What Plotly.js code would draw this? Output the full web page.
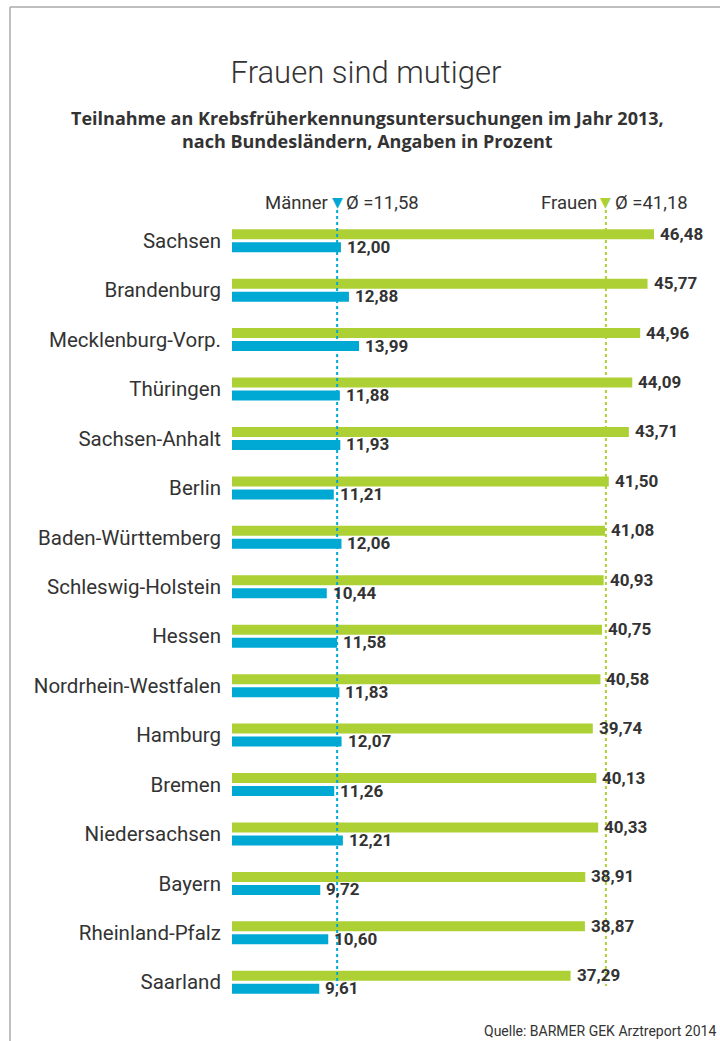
<!DOCTYPE html>
<html>
<head>
<meta charset="utf-8">
<script src="https://cdn.plot.ly/plotly-3.0.1.min.js"></script>
<style>
  html, body { margin: 0; padding: 0; background: #ffffff; }
  #chart { width: 720px; height: 1041px; }
</style>
</head>
<body>
<div id="chart"></div>
<script>
// ---- Data ----
const states = ["Sachsen", "Brandenburg", "Mecklenburg-Vorp.", "Thüringen", "Sachsen-Anhalt",
  "Berlin", "Baden-Württemberg", "Schleswig-Holstein", "Hessen", "Nordrhein-Westfalen",
  "Hamburg", "Bremen", "Niedersachsen", "Bayern", "Rheinland-Pfalz", "Saarland"];
const frauen = [46.48, 45.77, 44.96, 44.09, 43.71, 41.50, 41.08, 40.93, 40.75, 40.58,
  39.74, 40.13, 40.33, 38.91, 38.87, 37.29];
const maenner = [12.00, 12.88, 13.99, 11.88, 11.93, 11.21, 12.06, 10.44, 11.58, 11.83,
  12.07, 11.26, 12.21, 9.72, 10.60, 9.61];
const avgMaenner = 11.58;
const avgFrauen = 41.18;

// ---- Style ----
const GREEN = "#add035";
const BLUE = "#00a9d4";
const TEXT = "#333333";
const FONT = "Roboto, 'Open Sans', sans-serif";

const W = 720, H = 1041;
const M = { l: 232, r: 0, t: 216, b: 34 };
const plotW = W - M.l - M.r, plotH = H - M.t - M.b;
const px2x = p => (p - M.l) / plotW;           // pixel -> paper x
const py2y = p => (H - M.b - p) / plotH;       // pixel -> paper y

const fmt = v => v.toFixed(2).replace(".", ",");

const traces = [
  { type: "bar", orientation: "h", name: "Frauen", y: states, x: frauen,
    marker: { color: GREEN }, hoverinfo: "skip" },
  { type: "bar", orientation: "h", name: "Männer", y: states, x: maenner,
    marker: { color: BLUE }, hoverinfo: "skip" }
];

const annotations = [];
// value labels
states.forEach((s, i) => {
  annotations.push({ x: frauen[i], y: s, xref: "x", yref: "y", text: fmt(frauen[i]),
    showarrow: false, xanchor: "left", yanchor: "middle", xshift: 4, yshift: 7,
    font: { family: FONT, size: 17, color: TEXT, weight: "bold" } });
  annotations.push({ x: maenner[i], y: s, xref: "x", yref: "y", text: fmt(maenner[i]),
    showarrow: false, xanchor: "left", yanchor: "middle", xshift: 4, yshift: -6,
    font: { family: FONT, size: 17, color: TEXT, weight: "bold" } });
});

// average legend labels
const legY = py2y(203);
[[avgMaenner, "Männer", BLUE], [avgFrauen, "Frauen", GREEN]].forEach(([v, name, col]) => {
  annotations.push({ x: v, y: legY, xref: "x", yref: "paper", text: name, showarrow: false,
    xanchor: "right", yanchor: "middle", xshift: -7, font: { family: FONT, size: 18.5, color: TEXT } });
  annotations.push({ x: v, y: legY, xref: "x", yref: "paper", text: "▼", showarrow: false,
    xanchor: "center", yanchor: "middle", yshift: 1, font: { family: "DejaVu Sans", size: 14, color: col } });
  annotations.push({ x: v, y: legY, xref: "x", yref: "paper", text: "Ø =" + fmt(v), showarrow: false,
    xanchor: "left", yanchor: "middle", xshift: 7, font: { family: FONT, size: 18.5, color: TEXT } });
});

// subtitle
annotations.push({ x: px2x(367), y: py2y(130), xref: "paper", yref: "paper",
  text: "Teilnahme an Krebsfrüherkennungsuntersuchungen im Jahr 2013,<br>nach Bundesländern, Angaben in Prozent",
  showarrow: false, xanchor: "center", yanchor: "middle", align: "center",
  font: { family: "'Open Sans', sans-serif", size: 18, color: TEXT, weight: "bold" } });

// source
annotations.push({ x: px2x(718), y: py2y(1031), xref: "paper", yref: "paper",
  text: "Quelle: BARMER GEK Arztreport 2014", showarrow: false,
  xanchor: "right", yanchor: "middle", font: { family: FONT, size: 14, color: TEXT } });

const shapes = [
  // frame
  { type: "line", xref: "paper", yref: "paper", x0: px2x(10), x1: px2x(720), y0: py2y(7), y1: py2y(7),
    line: { color: "#aaaaaa", width: 1.5 } },
  { type: "line", xref: "paper", yref: "paper", x0: px2x(10), x1: px2x(10), y0: py2y(7), y1: py2y(1041),
    line: { color: "#aaaaaa", width: 1.5 } },
  // average dotted lines
  { type: "line", xref: "x", yref: "paper", x0: avgMaenner, x1: avgMaenner, y0: py2y(210), y1: py2y(986),
    line: { color: BLUE, width: 2, dash: "dot" }, layer: "above" },
  { type: "line", xref: "x", yref: "paper", x0: avgFrauen, x1: avgFrauen, y0: py2y(210), y1: py2y(986),
    line: { color: GREEN, width: 2, dash: "dot" }, layer: "above" }
];

const layout = {
  width: W, height: H,
  margin: M,
  paper_bgcolor: "#ffffff", plot_bgcolor: "#ffffff",
  showlegend: false,
  barmode: "group",
  bargap: 0.475,
  bargroupgap: 0.23,
  separators: ",.",
  title: { text: "Frauen sind mutiger", x: 366 / W, xanchor: "center", y: 1 - 72 / H, yanchor: "middle",
    xref: "container", yref: "container", font: { family: FONT, size: 31, color: TEXT, weight: 300 } },
  xaxis: { range: [0, 53.75], showgrid: false, zeroline: false, showticklabels: false, showline: false, fixedrange: true },
  yaxis: { type: "category", categoryorder: "array", categoryarray: states, range: [15.5, -0.5],
    showgrid: false, zeroline: false, showline: false, ticks: "", ticklabelstandoff: 10,
    tickfont: { family: FONT, size: 20.5, color: TEXT }, fixedrange: true },
  annotations: annotations,
  shapes: shapes
};

Plotly.newPlot("chart", traces, layout, { displayModeBar: false, staticPlot: true });
</script>
</body>
</html>
